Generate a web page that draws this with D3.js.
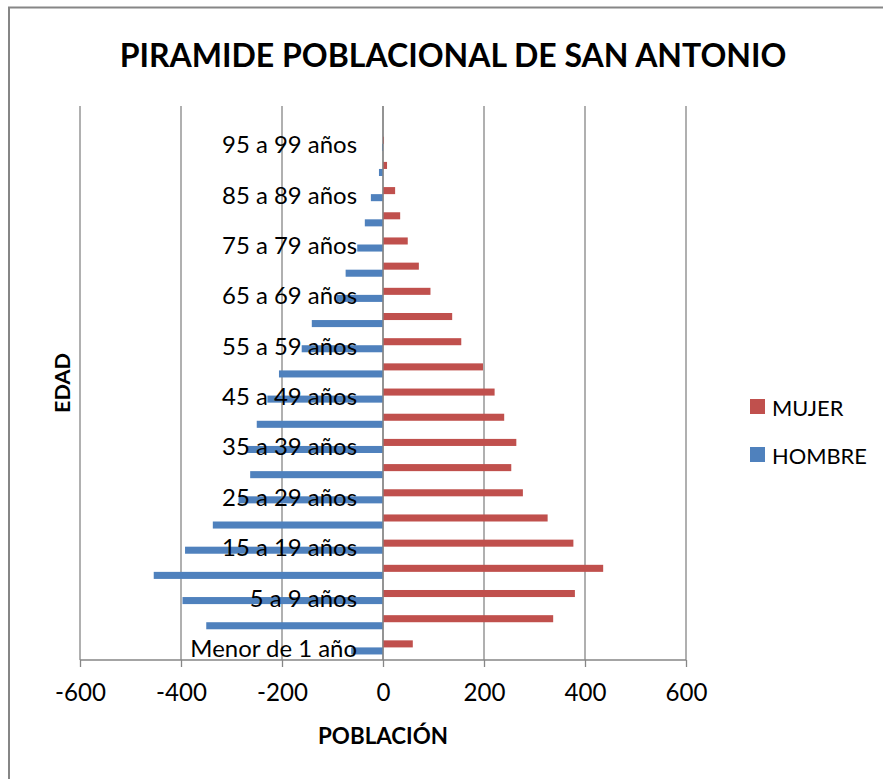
<!DOCTYPE html>
<html>
<head>
<meta charset="utf-8">
<script src="https://cdn.jsdelivr.net/npm/d3@7"></script>
<style>
  body { margin: 0; background: #fff; }
  text { font-family: Lato, "Open Sans", sans-serif; fill: #000; }
</style>
</head>
<body>
<div class="container"></div>
<script>
const ageGroups = [
  'Menor de 1 año', '1 a 4 años', '5 a 9 años', '10 a 14 años', '15 a 19 años',
  '20 a 24 años', '25 a 29 años', '30 a 34 años', '35 a 39 años', '40 a 44 años',
  '45 a 49 años', '50 a 54 años', '55 a 59 años', '60 a 64 años', '65 a 69 años',
  '70 a 74 años', '75 a 79 años', '80 a 84 años', '85 a 89 años', '90 a 94 años',
  '95 a 99 años', '100 años y más'
]
// hombres are shown as negative numbers on the left
const hombre = [-63, -350, -397, -454, -392, -337, -286, -263, -271, -250, -229, -206, -161, -141, -92, -74, -51, -36, -24, -8, -2, 0]
const mujer = [59, 337, 380, 436, 377, 326, 277, 254, 264, 240, 221, 198, 155, 137, 94, 71, 49, 34, 24, 8, 2, 0]
const xTicks = [-600, -400, -200, 0, 200, 400, 600]
const seriesNames = ['MUJER', 'HOMBRE']
const seriesColors = { MUJER: '#C0504D', HOMBRE: '#4F81BD' }

const width = 883
const height = 779
const plot = { left: 80, right: 686, top: 106, bottom: 660 }
const grey = '#868686'

const svg = d3.select('.container').append('svg')
  .attr('width', width)
  .attr('height', height)

svg.append('rect').attr('width', width).attr('height', height).attr('fill', '#fff')

// outer chart border, right and bottom edges fall outside the picture
svg.append('rect')
  .attr('x', 9).attr('y', 7.5)
  .attr('width', 900).attr('height', 800)
  .attr('fill', 'none').attr('stroke', grey).attr('stroke-width', 2)

// shrink/grow font so a text takes a given width
const fitText = (sel, target) => {
  const w = sel.node().getComputedTextLength()
  const size = parseFloat(sel.attr('font-size'))
  sel.attr('font-size', size * target / w)
  return size * target / w
}

const xScale = d3.scaleLinear().domain([-600, 600]).range([plot.left, plot.right])
const yScale = d3.scaleBand().domain(ageGroups).range([plot.bottom, plot.top])
const bw = yScale.bandwidth()
const ySub = d3.scaleBand().domain(seriesNames).range([bw * 0.22, bw * 0.78])

const title = svg.append('text')
  .attr('x', 453).attr('y', 54)
  .attr('text-anchor', 'middle').attr('dominant-baseline', 'central')
  .attr('font-weight', 'bold').attr('font-size', 30)
  .text('PIRAMIDE POBLACIONAL DE SAN ANTONIO')
fitText(title, 667)

// gridlines
svg.append('g').selectAll('line').data(xTicks)
  .join('line')
  .attr('x1', d => xScale(d)).attr('x2', d => xScale(d))
  .attr('y1', plot.top).attr('y2', plot.bottom)
  .attr('stroke', grey).attr('stroke-width', 1.3)

// bars
const rows = ageGroups.map((g, i) => ({ group: g, MUJER: mujer[i], HOMBRE: hombre[i] }))
const groups = svg.append('g').selectAll('g').data(rows)
  .join('g')
  .attr('transform', d => `translate(0, ${ yScale(d.group) })`)

groups.selectAll('rect')
  .data(d => seriesNames.map(s => ({ key: s, value: d[s] })))
  .join('rect')
  .attr('x', d => Math.min(xScale(0), xScale(d.value)))
  .attr('width', d => Math.abs(xScale(d.value) - xScale(0)))
  .attr('y', d => ySub(d.key))
  .attr('height', ySub.bandwidth())
  .attr('fill', d => seriesColors[d.key])

// category axis at zero
svg.append('line')
  .attr('x1', xScale(0)).attr('x2', xScale(0))
  .attr('y1', plot.top).attr('y2', plot.bottom)
  .attr('stroke', grey).attr('stroke-width', 1.3)

// category labels, every second one
const catLabels = svg.append('g').selectAll('text')
  .data(ageGroups.filter((d, i) => i % 2 === 0))
  .join('text')
  .attr('x', xScale(0) - 26)
  .attr('y', d => yScale(d) + bw / 2)
  .attr('text-anchor', 'end').attr('dominant-baseline', 'central')
  .attr('font-size', 25)
  .text(d => d)
const catSize = fitText(catLabels.filter(d => d === '95 a 99 años'), 135)
catLabels.attr('font-size', catSize)

// bottom value axis
const xAxis = svg.append('g')
  .attr('transform', `translate(0, ${ plot.bottom })`)
  .call(d3.axisBottom(xScale).tickValues(xTicks).tickSize(7).tickPadding(12).tickFormat(d3.format('d')))
xAxis.select('.domain').attr('stroke', grey).attr('stroke-width', 1.3).attr('d', `M${ plot.left },0H${ plot.right }`)
xAxis.selectAll('.tick line').attr('stroke', grey).attr('stroke-width', 1.3)
xAxis.selectAll('.tick text')
  .attr('font-family', 'Lato, sans-serif')
  .attr('font-size', 25)
  .attr('fill', '#000')
  .text(d => d < 0 ? '-' + Math.abs(d) : d)
const tickSize = fitText(xAxis.selectAll('.tick text').filter(d => d === 200), 42)
xAxis.selectAll('.tick text').attr('font-size', tickSize).attr('y', 24).attr('dy', '0.71em')

const xTitle = svg.append('text')
  .attr('x', 383).attr('y', 735)
  .attr('text-anchor', 'middle').attr('dominant-baseline', 'central')
  .attr('font-weight', 'bold').attr('font-size', 20)
  .text('POBLACIÓN')
fitText(xTitle, 130)

const yTitle = svg.append('text')
  .attr('transform', 'translate(62, 383) rotate(-90)')
  .attr('text-anchor', 'middle').attr('dominant-baseline', 'central')
  .attr('font-weight', 'bold').attr('font-size', 20)
  .text('EDAD')
fitText(yTitle, 60)

// legend
const legend = svg.append('g').selectAll('g').data(seriesNames)
  .join('g')
  .attr('transform', (d, i) => `translate(750, ${ 399 + i * 48 })`)
legend.append('rect')
  .attr('width', 15).attr('height', 15)
  .attr('fill', d => seriesColors[d])
const legendText = legend.append('text')
  .attr('x', 22).attr('y', 8)
  .attr('dominant-baseline', 'central')
  .attr('font-size', 20)
  .text(d => d)
const legSize = fitText(legendText.filter(d => d === 'HOMBRE'), 95)
legendText.attr('font-size', legSize)
</script>
</body>
</html>
